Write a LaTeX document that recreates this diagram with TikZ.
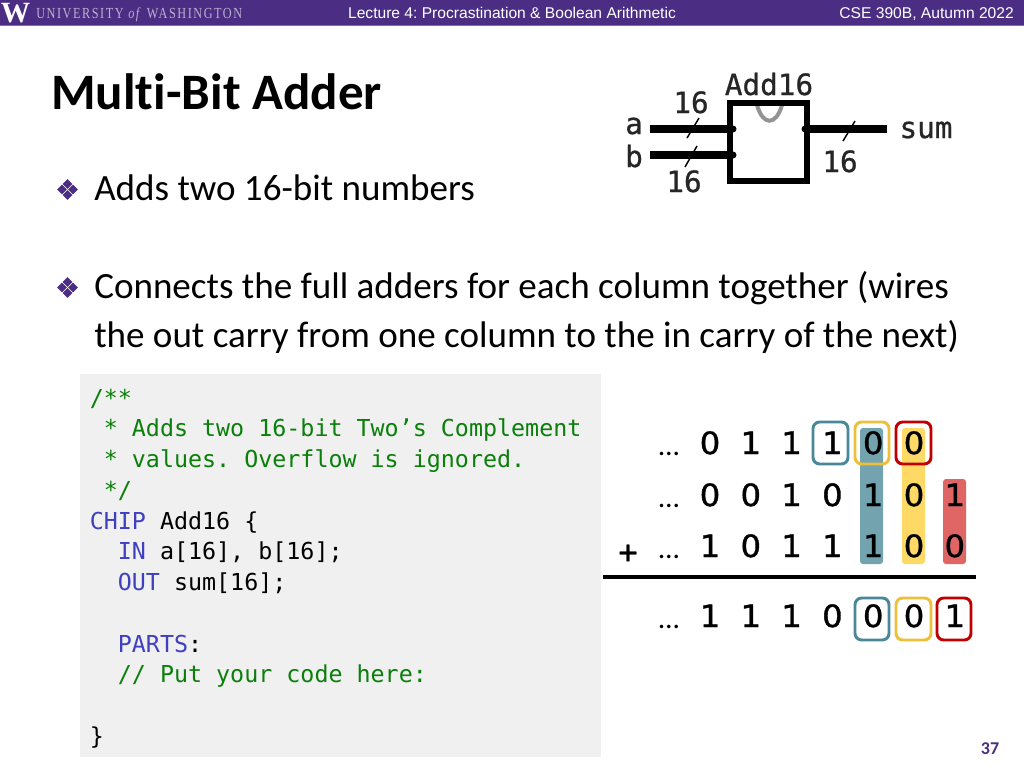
\documentclass[tikz,border=0pt]{standalone}
\usepackage{fontspec}
\setmainfont[Ligatures=NoCommon]{Carlito}
\newfontfamily\hdr{Liberation Sans}
\newfontfamily\logoserif[LetterSpace=10,FakeStretch=0.8]{Liberation Serif}
\newfontfamily\logow{Liberation Serif}
\newfontfamily\cod{DejaVu Sans Mono}
\newfontfamily\codb[FakeBold=0.8]{DejaVu Sans Mono}
\newfontfamily\digf[FakeBold=1.2,FakeStretch=1.05]{DejaVu Sans}
\definecolor{uwpurple}{HTML}{4B2E83}
\definecolor{cmt}{HTML}{0A7F0A}
\definecolor{kw}{HTML}{3F3FBF}
\definecolor{tealfill}{HTML}{72A3AF}
\definecolor{yelfill}{HTML}{FFD966}
\definecolor{redfill}{HTML}{E06666}
\definecolor{tealline}{HTML}{4A8798}
\definecolor{yelline}{HTML}{EDC03C}
\definecolor{redline}{HTML}{C00000}
\newcommand{\cm}[1]{\textcolor{cmt}{#1}}
\newcommand{\kwd}[1]{\textcolor{kw}{#1}}
\frenchspacing
\tikzset{
  x=0.75pt,y=-0.75pt,
  hdrtext/.style={font=\hdr\fontsize{11.7}{13}\selectfont,text=white,inner sep=0pt},
  bodytext/.style={font=\fontsize{27.8}{32}\selectfont,anchor=base west,inner sep=0pt,text=black},
  bulletd/.style={fill=uwpurple,draw=none},
  codeline/.style={font=\cod\fontsize{17.5}{20}\selectfont,anchor=base west,inner sep=0pt},
  dig/.style={font=\digf\fontsize{23}{24}\selectfont,inner sep=0pt,anchor=base,text=black},
  dots/.style={font=\fontsize{22}{24}\selectfont,inner sep=0pt,anchor=base},
  fillbar/.style={rounded corners=2.2pt,draw=none},
  outl/.style={rounded corners=5pt,line width=2.2pt,fill=none},
  wire/.style={line width=5.5pt},
  boxline/.style={line width=4.2pt},
  tick/.style={line width=1.1pt},
  dlab/.style={font=\codb\fontsize{22}{24}\selectfont,inner sep=0pt,anchor=base,text=black!85},
}
\begin{document}
\begin{tikzpicture}
\useasboundingbox (0,0) rectangle (1024,768);
\fill[white] (0,0) rectangle (1024,768);
% header
\fill[uwpurple] (0,0) rectangle (1024,25);
\fill[uwpurple!70] (0,24.5) rectangle (1024,25.5);
\node[font=\logow\bfseries\fontsize{22}{22}\selectfont,text=white,inner sep=0pt,anchor=base] (logow) at (15.5,22) {W};
\node[font=\logoserif\fontsize{11.5}{12}\selectfont,text=white!62!uwpurple,inner sep=0pt,anchor=base west] (logot) at (36,18.5) {UNIVERSITY \textit{of} WASHINGTON};
\node[hdrtext,anchor=base] (lect) at (512,18) {Lecture 4: Procrastination \& Boolean Arithmetic};
\node[hdrtext,anchor=base east] (course) at (1014,18) {CSE 390B, Autumn 2022};
% title and body
\node[font=\bfseries\fontsize{38.3}{44}\selectfont,anchor=base west,inner sep=0pt,text=black] (title) at (51,109) {Multi-Bit Adder};
\foreach \yy in {189.5,287.5}{
  \foreach \dx/\dy in {0/-5.5,-5.5/0,5.5/0,0/5.5}{
    \fill[bulletd] (67.5+\dx,\yy+\dy-4.8) -- (67.5+\dx+4.8,\yy+\dy) -- (67.5+\dx,\yy+\dy+4.8) -- (67.5+\dx-4.8,\yy+\dy) -- cycle;
  }
}
\node[bodytext] (b1) at (94,200) {Adds two 16-bit numbers};
\node[bodytext] (b2) at (94,298) {Connects the full adders for each column together (wires};
\node[bodytext] (b3) at (94,347) {the out carry from one column to the in carry of the next)};
% chip diagram
\draw[gray!85,line width=3pt] (757,105) .. controls (763,126) and (776,126) .. (782,105);
\draw[boxline] (730,103) rectangle (807,181);
\coordinate (aL) at (650,129); \coordinate (aR) at (733,129);
\coordinate (bL) at (650,155); \coordinate (bR) at (733,155);
\coordinate (sL) at (805,129); \coordinate (sR) at (887,129);
\draw[wire] (aL) -- (aR); \draw[wire] (bL) -- (bR); \draw[wire] (sL) -- (sR);
\fill (aR) circle (3.5); \fill (bR) circle (3.5); \fill (sL) circle (3.5);
\draw[tick] (687,138) -- (699,118);
\draw[tick] (685,167) -- (697,146);
\draw[tick] (843,141) -- (855,121);
\node[dlab] (adl) at (769,95) {Add16};
\node[dlab] (l1) at (691,113) {16};
\node[dlab] (l2) at (684,192) {16};
\node[dlab] (l3) at (840,172) {16};
\node[dlab] (la) at (634,134) {a};
\node[dlab] (lb) at (634,167) {b};
\node[dlab] (ls) at (926,138) {sum};
% code
\fill[black!6] (80,374) rectangle (601,757);
\foreach \n/\t in {
 0/\cm{/**},
 1/\cm{\ * Adds two 16-bit Two’s Complement},
 2/\cm{\ * values. Overflow is ignored.},
 3/\cm{\ */},
 4/{\kwd{CHIP} Add16 \{},
 5/{\ \ \kwd{IN} a[16], b[16];},
 6/{\ \ \kwd{OUT} sum[16];},
 8/{\ \ \kwd{PARTS}:},
 9/{\ \ \cm{// Put your code here:}},
 11/{\}}}{
  \node[codeline] at (89.5,{406+30.75*\n}) {\t};
}
% adder table
\fill[tealfill,fillbar] (860,428) rectangle (883,564);
\fill[yelfill,fillbar] (902,428) rectangle (925,564);
\fill[redfill,fillbar] (943,479) rectangle (966,564);
\draw[outl,draw=tealline] (813,422) rectangle (848,464);
\draw[outl,draw=yelline] (855,422) rectangle (889,464);
\draw[outl,draw=redline] (896,422) rectangle (931,464);
\draw[outl,draw=tealline] (855,598) rectangle (889,640);
\draw[outl,draw=yelline] (896,598) rectangle (931,640);
\draw[outl,draw=redline] (937,598) rectangle (971,640);
\coordinate (rL) at (603,577); \coordinate (rR) at (976,577);
\draw[line width=2.5pt] (rL) -- (rR);
\node[font=\codb\fontsize{24}{26}\selectfont,inner sep=0pt,anchor=base] (plus) at (628,563) {+};
\foreach \yy/\row in {454/{0,1,1,1,0,0,},506/{0,0,1,0,1,0,1},557/{1,0,1,1,1,0,0},627/{1,1,1,0,0,0,1}}{
  \node[dots] at (669,\yy+1) {…};
  \foreach \v [count=\i from 0] in \row {
    \node[dig] at ({710+40.8*\i},\yy) {\v};
  }
}
\node[font=\bfseries\fontsize{13.5}{15}\selectfont,text=uwpurple,inner sep=0pt,anchor=base] (pg) at (990,754) {37};
\end{tikzpicture}
\end{document}
